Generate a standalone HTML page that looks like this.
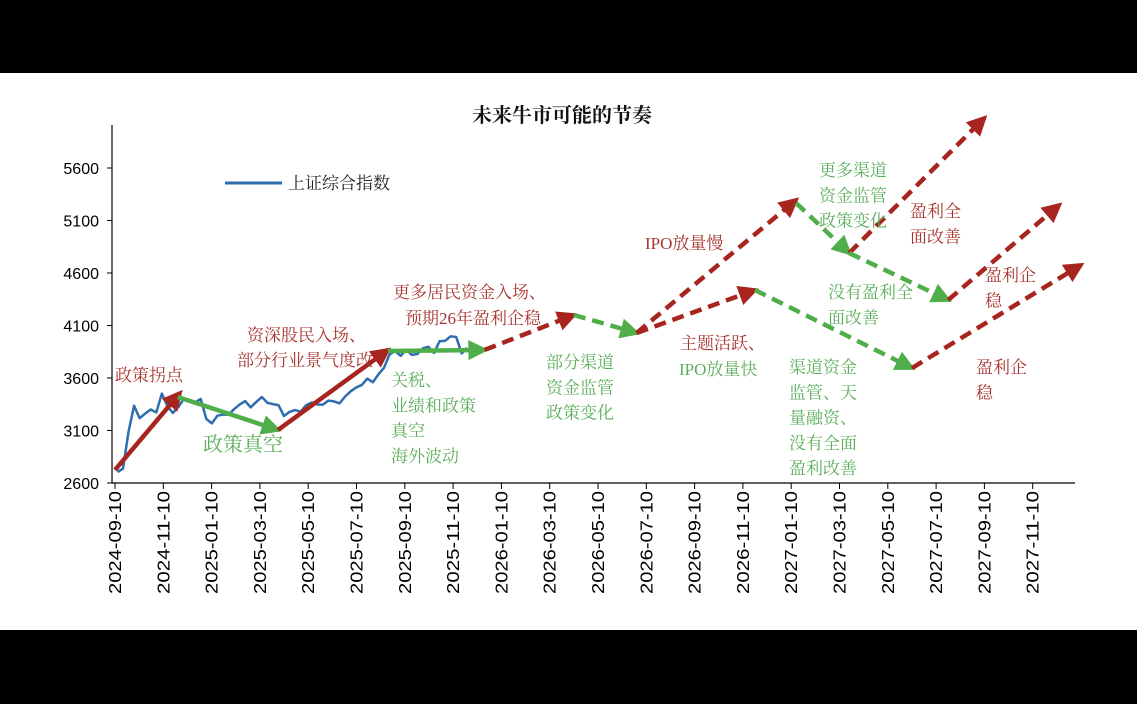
<!DOCTYPE html>
<html><head><meta charset="utf-8"><style>
html,body{margin:0;padding:0;background:#000;}
svg{display:block;}
text{font-family:"Liberation Serif","Noto Serif CJK SC",serif;}
.sans{font-family:"Liberation Sans","Noto Sans CJK SC",sans-serif;}
</style></head><body>
<svg id="c" width="1137" height="704" viewBox="0 0 1137 704" xmlns="http://www.w3.org/2000/svg">
<defs>
<marker id="mr" viewBox="0 0 10 10" refX="8" refY="5" markerWidth="4.5" markerHeight="4.5" orient="auto" markerUnits="strokeWidth"><path d="M0,0L10,5L0,10z" fill="#a8241f"/></marker>
<marker id="mg" viewBox="0 0 10 10" refX="8" refY="5" markerWidth="4.5" markerHeight="4.5" orient="auto" markerUnits="strokeWidth"><path d="M0,0L10,5L0,10z" fill="#4fae4a"/></marker>
</defs>
<rect x="0" y="73" width="1137" height="557" fill="#fff"/>
<text x="562" y="122" text-anchor="middle" font-size="20" font-weight="bold" fill="#111">未来牛市可能的节奏</text>
<g id="axes"></g>
<g id="series"></g>
<g id="arrows"></g>
<g id="labels"></g>
<line x1="225" y1="183" x2="282" y2="183" stroke="#2e6db0" stroke-width="3"/>
<text x="288" y="189" font-size="17" fill="#222">上证综合指数</text>
</svg>
<script>
const NS="http://www.w3.org/2000/svg";
const xTicks=["2024-09-10","2024-11-10","2025-01-10","2025-03-10","2025-05-10","2025-07-10","2025-09-10","2025-11-10","2026-01-10","2026-03-10","2026-05-10","2026-07-10","2026-09-10","2026-11-10","2027-01-10","2027-03-10","2027-05-10","2027-07-10","2027-09-10","2027-11-10"];
const yTicks=[2600,3100,3600,4100,4600,5100,5600];
// weekly index values starting 2024-09-13
const indexValues=[2704,2736,3088,3336,3217,3261,3300,3272,3452,3331,3267,3326,3404,3392,3368,3400,3211,3168,3241,3252,3250,3303,3347,3380,3320,3372,3419,3364,3351,3342,3238,3277,3295,3279,3342,3367,3348,3347,3385,3377,3359,3424,3473,3510,3534,3594,3560,3635,3697,3825,3857,3812,3870,3820,3828,3882,3897,3839,3950,3954,3997,3990,3834,3888];
// arrows: [startMonth, startValue] -> [endMonth, endValue]
const arrowFrom=[[0,2724],[2.6,3419],[6.75,3105],[11.3,3857],[15.3,3867],[19,4200],[21.6,4029],[21.6,4029],[28.2,5267],[30.4,4790],[30.4,4790],[34.5,4343],[26.5,4438],[33,3695]];
const arrowTo=[[2.69,3457],[6.75,3105],[11.3,3867],[15.3,3867],[19,4200],[21.6,4029],[28.2,5295],[26.5,4438],[30.4,4790],[36,6076],[34.5,4343],[39.1,5248],[33,3695],[40,4676]];
const arrowColor=["r","g","r","g","r","g","r","r","g","r","g","r","g","r"];
const arrowDashed=[0,0,0,0,1,1,1,1,1,1,1,1,1,1];
const X=m=>115+m*24.15;
const Y=v=>483-(v-2600)*0.105;
function el(t,a,p){const e=document.createElementNS(NS,t);for(const k in a)e.setAttribute(k,a[k]);p.appendChild(e);return e;}
const ax=document.getElementById('axes');
let e=el('line',{x1:112,y1:125,x2:112,y2:483,stroke:'#000','stroke-width':1.2},ax);


e=el('line',{x1:112,y1:483,x2:1075,y2:483,stroke:'#000','stroke-width':1.2},ax);


yTicks.forEach(v=>{
 el('line',{x1:107,y1:Y(v),x2:112,y2:Y(v),stroke:'#000'},ax);
 const t=el('text',{x:99,y:Y(v)+6,'text-anchor':'end','font-size':16,fill:'#000','class':'sans'},ax);t.textContent=v;
 
 
});
xTicks.forEach((s,i)=>{
 const x=X(i*2);
 el('line',{x1:x,y1:483,x2:x,y2:489,stroke:'#000'},ax);
 const t=el('text',{x:0,y:0,'text-anchor':'end','font-size':17.5,fill:'#000','class':'sans',textLength:103,lengthAdjust:'spacingAndGlyphs',transform:`translate(${x+6},${491}) rotate(-90)`},ax);t.textContent=s;
 
 
});
const sg=document.getElementById('series');
const pts=indexValues.map((v,i)=>[X(0.1+i*12/52.18),Y(v)]);
const pl=el('polyline',{points:pts.map(p=>p.join(',')).join(' '),fill:'none',stroke:'#2e6db0','stroke-width':2.5,'stroke-linejoin':'round'},sg);


const ag=document.getElementById('arrows');
arrowFrom.forEach((f,i)=>{
 const t=arrowTo[i];const c=arrowColor[i]=='r'?'#a8241f':'#4fae4a';
 const a={x1:X(f[0]),y1:Y(f[1]),x2:X(t[0]),y2:Y(t[1]),stroke:c,'stroke-width':4.5,'marker-end':`url(#m${arrowColor[i]})`};
 if(arrowDashed[i])a['stroke-dasharray']='12 7';
 const l=el('line',a,ag);
 
 
});
const R='#a8342f',G='#5aae5a';
const labels=[
 [115,381,R,17,["政策拐点"]],
 [203,451,G,20,["政策真空"]],
 [247,341,R,17,["资深股民入场、"]],
 [237,366,R,17,["部分行业景气度改"]],
 [393,298,R,17,["更多居民资金入场、"]],
 [405,324,R,17,["预期26年盈利企稳"]],
 [391,386,G,17,["关税、","业绩和政策","真空","海外波动"]],
 [546,368,G,17,["部分渠道","资金监管","政策变化"]],
 [645,249,R,17,["IPO放量慢"]],
 [680,349,R,17,["主题活跃、"]],
 [679,375,G,17,["IPO放量快"]],
 [819,176,G,17,["更多渠道","资金监管","政策变化"]],
 [910,217,R,17,["盈利全","面改善"]],
 [828,298,G,17,["没有盈利全","面改善"]],
 [985,281,R,17,["盈利企","稳"]],
 [789,373,G,17,["渠道资金","监管、天","量融资、","没有全面","盈利改善"]],
 [976,373,R,17,["盈利企","稳"]]
];
const lg=document.getElementById('labels');
labels.forEach(L=>{
 L[4].forEach((s,j)=>{
  const t=el('text',{x:L[0],y:L[1]+j*25.3,fill:L[2],'font-size':L[3]},lg);t.textContent=s;
  
  
 });
});
</script>
</body></html>
